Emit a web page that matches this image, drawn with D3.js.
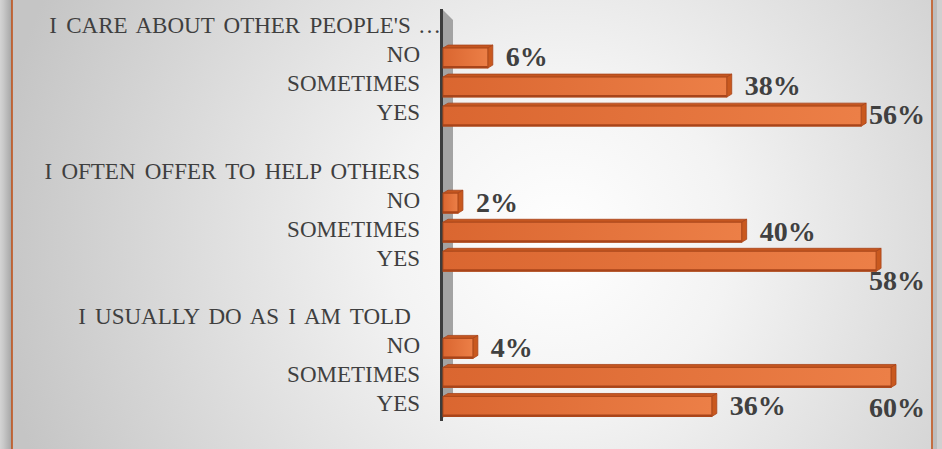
<!DOCTYPE html>
<html>
<head>
<meta charset="utf-8">
<script src="https://cdn.jsdelivr.net/npm/d3@7/dist/d3.min.js"></script>
<style>
  html, body { margin: 0; padding: 0; background: #d2d2d2; }
  svg { display: block; }
  text { font-family: "Liberation Serif", "DejaVu Serif", serif; }
</style>
</head>
<body>
<svg id="chart" width="942" height="449"></svg>
<script>
// Survey statements (groups), the answer options and the share for each answer (%)
const statements = ["I CARE ABOUT OTHER PEOPLE'S…", "I OFTEN OFFER TO HELP OTHERS", "I USUALLY DO AS I AM TOLD "];
const answers = ["NO", "SOMETIMES", "YES"];
const careValues = [6, 38, 56];
const helpValues = [2, 40, 58];
const toldValues = [4, 60, 36];
const seriesValues = [careValues, helpValues, toldValues];
const axisMax = 60;

const W = 942, H = 449;
const svg = d3.select("#chart");
const defs = svg.append("defs");

// Background: panel with soft radial shading
const bg = defs.append("radialGradient").attr("id", "bgGrad")
  .attr("gradientUnits", "userSpaceOnUse")
  .attr("cx", 560).attr("cy", 240).attr("r", 570);
bg.append("stop").attr("offset", 0).attr("stop-color", "#ffffff");
bg.append("stop").attr("offset", 0.3).attr("stop-color", "#f3f3f3");
bg.append("stop").attr("offset", 1).attr("stop-color", "#c5c5c5");

const sh = defs.append("linearGradient").attr("id", "leftShadow").attr("x1", 0).attr("x2", 1);
sh.append("stop").attr("offset", 0).attr("stop-color", "#d4d4d4");
sh.append("stop").attr("offset", 0.3).attr("stop-color", "#c8c8c8");
sh.append("stop").attr("offset", 1).attr("stop-color", "#a4a4a4");

const barGrad = defs.append("linearGradient").attr("id", "barGrad").attr("x1", 0).attr("x2", 1);
barGrad.append("stop").attr("offset", 0).attr("stop-color", "#da6630");
barGrad.append("stop").attr("offset", 1).attr("stop-color", "#ec7f47");

svg.append("rect").attr("x", 0).attr("y", 0).attr("width", W).attr("height", H).attr("fill", "#d0d0d0");
svg.append("rect").attr("x", 0).attr("y", 0).attr("width", 12).attr("height", H).attr("fill", "url(#leftShadow)");
svg.append("rect").attr("x", 933).attr("y", 0).attr("width", 4).attr("height", H).attr("fill", "#bdbdbd");
svg.append("rect")
  .attr("x", 12).attr("y", -10).attr("width", 920).attr("height", H + 20)
  .attr("fill", "url(#bgGrad)")
  .attr("stroke", "#c0541d").attr("stroke-width", 1.6);

// Rows: statement header, its three answers, then a blank spacer before the next statement
const rows = [];
statements.forEach((s, gi) => {
  if (gi > 0) rows.push({ id: "gap" + gi, label: "" });
  rows.push({ id: "head" + gi, label: s, header: true });
  answers.forEach((a, ai) => rows.push({ id: gi + "-" + ai, label: a, value: seriesValues[gi][ai], gi, ai }));
});

const y = d3.scaleBand().domain(rows.map(r => r.id)).range([11, 417.5]).padding(0);
const x = d3.scaleLinear().domain([0, axisMax]).range([443, 891]);

const x0 = x(0);
const depthX = 5, depthY = 3, barH = 20;

// 3D wall behind the category axis
svg.append("polygon")
  .attr("points", [[x0, 10], [x0 + 10, 20], [x0 + 10, 408], [x0, 418]].map(p => p.join(",")).join(" "))
  .attr("fill", "#a3a3a3");
svg.append("rect").attr("x", x0 - 3).attr("y", 9).attr("width", 3).attr("height", 412).attr("fill", "#3c3c3c");

// Category labels
const labelRight = x0 - 23;
const catG = svg.append("g");
rows.filter(r => r.label).forEach(r => {
  const cy = y(r.id) + y.bandwidth() / 2;
  const truncated = r.label.endsWith("…");
  const main = truncated ? r.label.slice(0, -1) + " " : r.label;
  catG.append("text")
    .attr("x", labelRight).attr("y", cy).attr("dy", "0.34em")
    .attr("text-anchor", "end")
    .attr("font-size", 23).attr("fill", "#3f3f3f")
    .attr("word-spacing", 3.5)
    .style("white-space", "pre")
    .text(main);
  if (truncated) {
    catG.append("text")
      .attr("x", labelRight - 2).attr("y", cy).attr("dy", "0.34em")
      .attr("font-size", 23).attr("fill", "#3f3f3f")
      .text("…");
  }
});

// Bars drawn as simple extruded boxes
const barRows = rows.filter(r => r.value !== undefined);
const barG = svg.append("g");
barRows.forEach(r => {
  const cy = y(r.id) + y.bandwidth() / 2;
  const top = cy - 6.5;
  const xe = x(r.value);
  const g = barG.append("g");
  g.append("polygon")
    .attr("points", [[x0, top], [x0 + depthX, top - depthY], [xe + depthX, top - depthY], [xe, top]].map(p => p.join(",")).join(" "))
    .attr("fill", "#c45620").attr("stroke", "#a8441a").attr("stroke-width", 0.8);
  g.append("polygon")
    .attr("points", [[xe, top], [xe + depthX, top - depthY], [xe + depthX, top + barH - depthY], [xe, top + barH]].map(p => p.join(",")).join(" "))
    .attr("fill", "#c9591f").attr("stroke", "#a8441a").attr("stroke-width", 0.8);
  g.append("rect")
    .attr("x", x0).attr("y", top).attr("width", xe - x0).attr("height", barH)
    .attr("fill", "url(#barGrad)").attr("stroke", "#b04a1b").attr("stroke-width", 1);
  g.append("line")
    .attr("x1", x0).attr("x2", xe).attr("y1", top + barH - 1).attr("y2", top + barH - 1)
    .attr("stroke", "#a8441a").attr("stroke-width", 2);
});

// Value labels: just past the bar end; labels that would run off the panel
// are pulled back inside the right edge and dropped below
const labelLimit = 925;
const labelDrop = [[0, 0, 0], [0, 0, 20], [0, 31, 0]];
const valG = svg.append("g");
barRows.forEach(r => {
  const cy = y(r.id) + y.bandwidth() / 2 + 2;
  const t = valG.append("text")
    .attr("y", cy + labelDrop[r.gi][r.ai]).attr("dy", "0.35em")
    .attr("font-size", 28).attr("font-weight", "bold").attr("fill", "#404040")
    .text(r.value + "%");
  const w = t.node().getComputedTextLength();
  let lx = x(r.value) + depthX + 13;
  if (lx + w > labelLimit) lx = labelLimit - w;
  t.attr("x", lx);
});
</script>
</body>
</html>
